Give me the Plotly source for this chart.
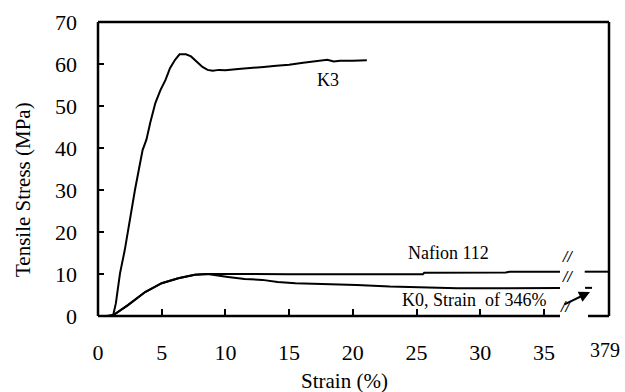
import plotly.graph_objects as go

# ---------------- data ----------------
k3_strain = [0.7, 1.2, 1.4, 1.73, 2.1, 2.37, 2.9, 3.5, 3.8, 4.1, 4.5, 4.9, 5.3, 5.65, 6.05,
             6.4, 6.9, 7.3, 7.6, 8.2, 8.6, 9.0, 9.5, 10.0, 11.0, 12.0, 13.0, 14.0, 15.0,
             16.1, 17.0, 18.0, 18.5, 19.0, 20.0, 21.1]
k3_stress = [0.0, 0.3, 3.0, 10.2, 15.7, 20.5, 30.0, 39.5, 42.0, 46.0, 50.7, 53.8, 56.2, 59.0, 61.0,
             62.3, 62.3, 61.8, 61.0, 59.3, 58.6, 58.4, 58.6, 58.5, 58.8, 59.0, 59.3, 59.6, 59.8,
             60.3, 60.6, 61.0, 60.6, 60.8, 60.8, 60.9]

nafion_strain = [0.8, 1.1, 2.35, 3.7, 5.0, 6.3, 7.6, 8.6, 15.0, 20.0, 25.5, 25.6, 32.0, 32.3, 36.6]
nafion_stress = [0.0, 0.0, 2.6, 5.7, 7.8, 9.0, 9.8, 10.0, 9.95, 9.95, 9.95, 10.3, 10.35, 10.55, 10.55]
nafion_tail_strain = [376.1, 379.6]
nafion_tail_stress = [10.55, 10.55]

k0_strain = [0.8, 1.1, 2.35, 3.7, 5.0, 6.3, 7.6, 8.6, 10.2, 11.5, 12.9, 14.1, 15.5, 18.2, 20.3,
             22.9, 28.2, 30.8, 36.6]
k0_stress = [0.0, 0.0, 2.6, 5.7, 7.8, 9.0, 9.8, 10.0, 9.3, 8.8, 8.6, 8.1, 7.8, 7.6, 7.4,
             7.0, 6.6, 6.6, 6.7]
k0_tail_strain = [376.15, 377.15]
k0_tail_stress = [6.7, 6.7]

x_ticks = [0, 5, 10, 15, 20, 25, 30, 35]
y_ticks = [0, 10, 20, 30, 40, 50, 60, 70]
break_tick = [379]

SERIF = "Liberation Serif"
LW = 2

fig = go.Figure()
line = dict(color="black", width=LW)
fig.add_trace(go.Scatter(x=k3_strain, y=k3_stress, mode="lines", line=line, xaxis="x", yaxis="y"))
fig.add_trace(go.Scatter(x=nafion_strain, y=nafion_stress, mode="lines", line=line, xaxis="x", yaxis="y"))
fig.add_trace(go.Scatter(x=k0_strain, y=k0_stress, mode="lines", line=line, xaxis="x", yaxis="y"))
fig.add_trace(go.Scatter(x=nafion_tail_strain, y=nafion_tail_stress, mode="lines", line=line,
                         xaxis="x2", yaxis="y"))
fig.add_trace(go.Scatter(x=k0_tail_strain, y=k0_tail_stress, mode="lines", line=line,
                         xaxis="x2", yaxis="y"))

# frame (broken bottom axis)
BL = (560 - 98) / 511
BR = (588 - 98) / 511
fw = dict(color="black", width=2.5)
shapes = [
    dict(type="line", xref="paper", yref="paper", x0=0, x1=1, y0=1, y1=1, line=fw),
    dict(type="line", xref="paper", yref="paper", x0=0, x1=0, y0=0, y1=1, line=fw),
    dict(type="line", xref="paper", yref="paper", x0=1, x1=1, y0=0, y1=1, line=fw),
    dict(type="line", xref="paper", yref="paper", x0=0, x1=BL, y0=0, y1=0, line=fw),
    dict(type="line", xref="paper", yref="paper", x0=BR, x1=1, y0=0, y1=0, line=fw),
]

ann = []
# curve labels
ann.append(dict(x=18.05, y=56.2, xref="x", yref="y", text="K3", showarrow=False,
                font=dict(family=SERIF, size=18, color="black")))
ann.append(dict(x=27.5, y=15.0, xref="x", yref="y", text="Nafion 112", showarrow=False,
                font=dict(family=SERIF, size=18, color="black")))
ann.append(dict(x=29.5, y=3.8, xref="x", yref="y", text="K0, Strain&nbsp; of 346%", showarrow=False,
                font=dict(family=SERIF, size=18, color="black")))
# break marks
for (px, py) in [(575, 267), (575, 287), (573, 317)]:
    ann.append(dict(x=(px - 98) / 511, y=(316 - py) / 294, xref="paper", yref="paper",
                    text="<b><i>//</i></b>", showarrow=False,
                    font=dict(family=SERIF, size=16, color="black")))
# arrow
ann.append(dict(x=(590 - 98) / 511, y=(316 - 292) / 294, xref="paper", yref="paper",
                text="", showarrow=True, ax=-27, ay=13, arrowhead=2, arrowsize=1.1,
                arrowwidth=2, arrowcolor="black"))
# axis titles
ann.append(dict(x=(23 - 98) / 511, y=(316 - 190) / 294, xref="paper", yref="paper",
                text="Tensile Stress (MPa)", textangle=-90, showarrow=False,
                xanchor="center", yanchor="middle",
                font=dict(family=SERIF, size=21, color="black")))
ann.append(dict(x=(344 - 98) / 511, y=(316 - 381) / 294, xref="paper", yref="paper",
                text="Strain (%)", showarrow=False, xanchor="center", yanchor="middle",
                font=dict(family=SERIF, size=21, color="black")))

fig.update_layout(
    width=625, height=392,
    margin=dict(l=98, r=16, t=22, b=76, autoexpand=False),
    paper_bgcolor="white", plot_bgcolor="white",
    showlegend=False,
    shapes=shapes, annotations=ann,
    xaxis=dict(domain=[0, BL], range=[0, 36.26], tickvals=x_ticks, ticks="inside",
               ticklen=7, tickwidth=2, tickcolor="black", showline=False, showgrid=False,
               zeroline=False, ticklabelstandoff=21, automargin=False,
               tickfont=dict(family=SERIF, size=22, color="black")),
    xaxis2=dict(domain=[(584 - 98) / 511, 1], range=[376, 379.57], tickvals=break_tick,
                ticks="", showline=False, showgrid=False, zeroline=False,
                anchor="y", ticklabelstandoff=20, automargin=False,
                tickfont=dict(family=SERIF, size=20, color="black")),
    yaxis=dict(range=[0, 70], tickvals=y_ticks, ticks="inside", ticklen=6, tickwidth=2,
               tickcolor="black", showline=False, showgrid=False, zeroline=False,
               ticklabelstandoff=20, automargin=False,
               tickfont=dict(family=SERIF, size=22, color="black")),
)

fig.write_html("out.html", config={"displayModeBar": False},
               post_script="document.body.style.margin='0';document.body.style.overflow='hidden';")
